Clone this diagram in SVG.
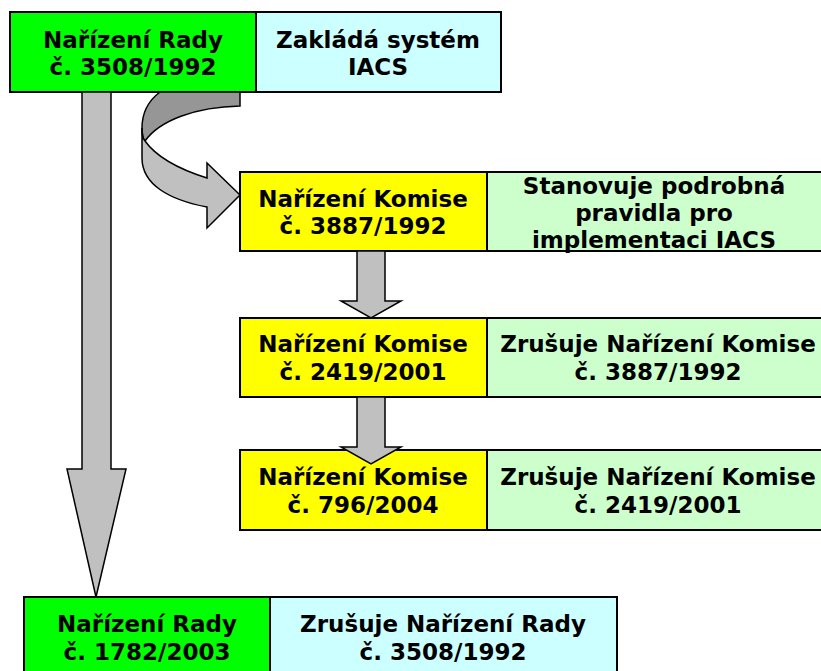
<svg xmlns="http://www.w3.org/2000/svg" width="821" height="671" viewBox="0 0 821 671">
  <style>
    .box { stroke: #000; stroke-width: 2; }
    .rada { fill: #00ff00; }
    .cyan { fill: #ccffff; }
    .komise { fill: #ffff00; }
    .mint { fill: #ccffcc; }
    .arrow { fill: #c0c0c0; stroke: #000; stroke-width: 1.5; stroke-linejoin: miter; }
    .back { fill: #969696; stroke: #000; stroke-width: 1.5; }
    text { font-family: "DejaVu Sans", Verdana, sans-serif; font-weight: bold; font-size: 23px; fill: #000; text-anchor: middle; }
  </style>
  <rect width="821" height="671" fill="#fff"/>

  <!-- top row -->
  <g id="rada-3508">
    <rect class="box rada" x="10" y="12" width="246" height="80"/>
    <text x="133" y="48">Nařízení Rady</text>
    <text x="133" y="75">č. 3508/1992</text>
  </g>
  <g id="rada-3508-desc">
    <rect class="box cyan" x="256" y="12" width="245" height="80"/>
    <text x="378" y="48">Zakládá systém</text>
    <text x="378" y="75">IACS</text>
  </g>

  <!-- commission regulations -->
  <g id="komise-3887">
    <rect class="box komise" x="240" y="172" width="247" height="79"/>
    <text x="363" y="207">Nařízení Komise</text>
    <text x="363" y="234">č. 3887/1992</text>
  </g>
  <g id="komise-3887-desc">
    <rect class="box mint" x="487" y="172" width="340" height="79"/>
    <text x="654" y="194">Stanovuje podrobná</text>
    <text x="654" y="221">pravidla pro</text>
    <text x="654" y="248">implementaci IACS</text>
  </g>

  <g id="komise-2419">
    <rect class="box komise" x="240" y="318" width="247" height="79"/>
    <text x="363" y="352">Nařízení Komise</text>
    <text x="363" y="380">č. 2419/2001</text>
  </g>
  <g id="komise-2419-desc">
    <rect class="box mint" x="487" y="318" width="340" height="79"/>
    <text x="658" y="352">Zrušuje Nařízení Komise</text>
    <text x="658" y="380">č. 3887/1992</text>
  </g>

  <g id="komise-796">
    <rect class="box komise" x="240" y="450" width="247" height="80"/>
    <text x="363" y="485">Nařízení Komise</text>
    <text x="363" y="513">č. 796/2004</text>
  </g>
  <g id="komise-796-desc">
    <rect class="box mint" x="487" y="450" width="340" height="80"/>
    <text x="658" y="485">Zrušuje Nařízení Komise</text>
    <text x="658" y="513">č. 2419/2001</text>
  </g>

  <!-- bottom row -->
  <g id="rada-1782">
    <rect class="box rada" x="24" y="597" width="246" height="80"/>
    <text x="147" y="632">Nařízení Rady</text>
    <text x="147" y="660">č. 1782/2003</text>
  </g>
  <g id="rada-1782-desc">
    <rect class="box cyan" x="270" y="597" width="347" height="80"/>
    <text x="443" y="632">Zrušuje Nařízení Rady</text>
    <text x="443" y="660">č. 3508/1992</text>
  </g>

  <!-- connectors -->
  <g id="connectors">
    <!-- long arrow: 3508/1992 to 1782/2003 -->
    <path class="arrow" d="M82,92 L111,92 L111,469 L126,469 L96,597 L67,469 L82,469 Z"/>
    <!-- curved arrow: 3508/1992 to 3887/1992 (back face, then front face) -->
    <path class="back" d="M160,92 L240,92 L240,106 C196,107 160,120 145,141 C142,138 142,134 142,128 C142,112 148,101 160,92 Z"/>
    <path class="arrow" d="M145,141 C155,155 172,167 207,178 L207,163 L240,195 L207,228 L207,207 C170,200 142,185 142,158 L142,128 C142,134 142,138 145,141 Z"/>
    <!-- 3887/1992 to 2419/2001 -->
    <path class="arrow" d="M357,251 L385,251 L385,301 L401,301 L371,318 L341,301 L357,301 Z"/>
    <!-- 2419/2001 to 796/2004 -->
    <path class="arrow" d="M357,397 L385,397 L385,447 L401,447 L371,464 L341,447 L357,447 Z"/>
  </g>
</svg>
